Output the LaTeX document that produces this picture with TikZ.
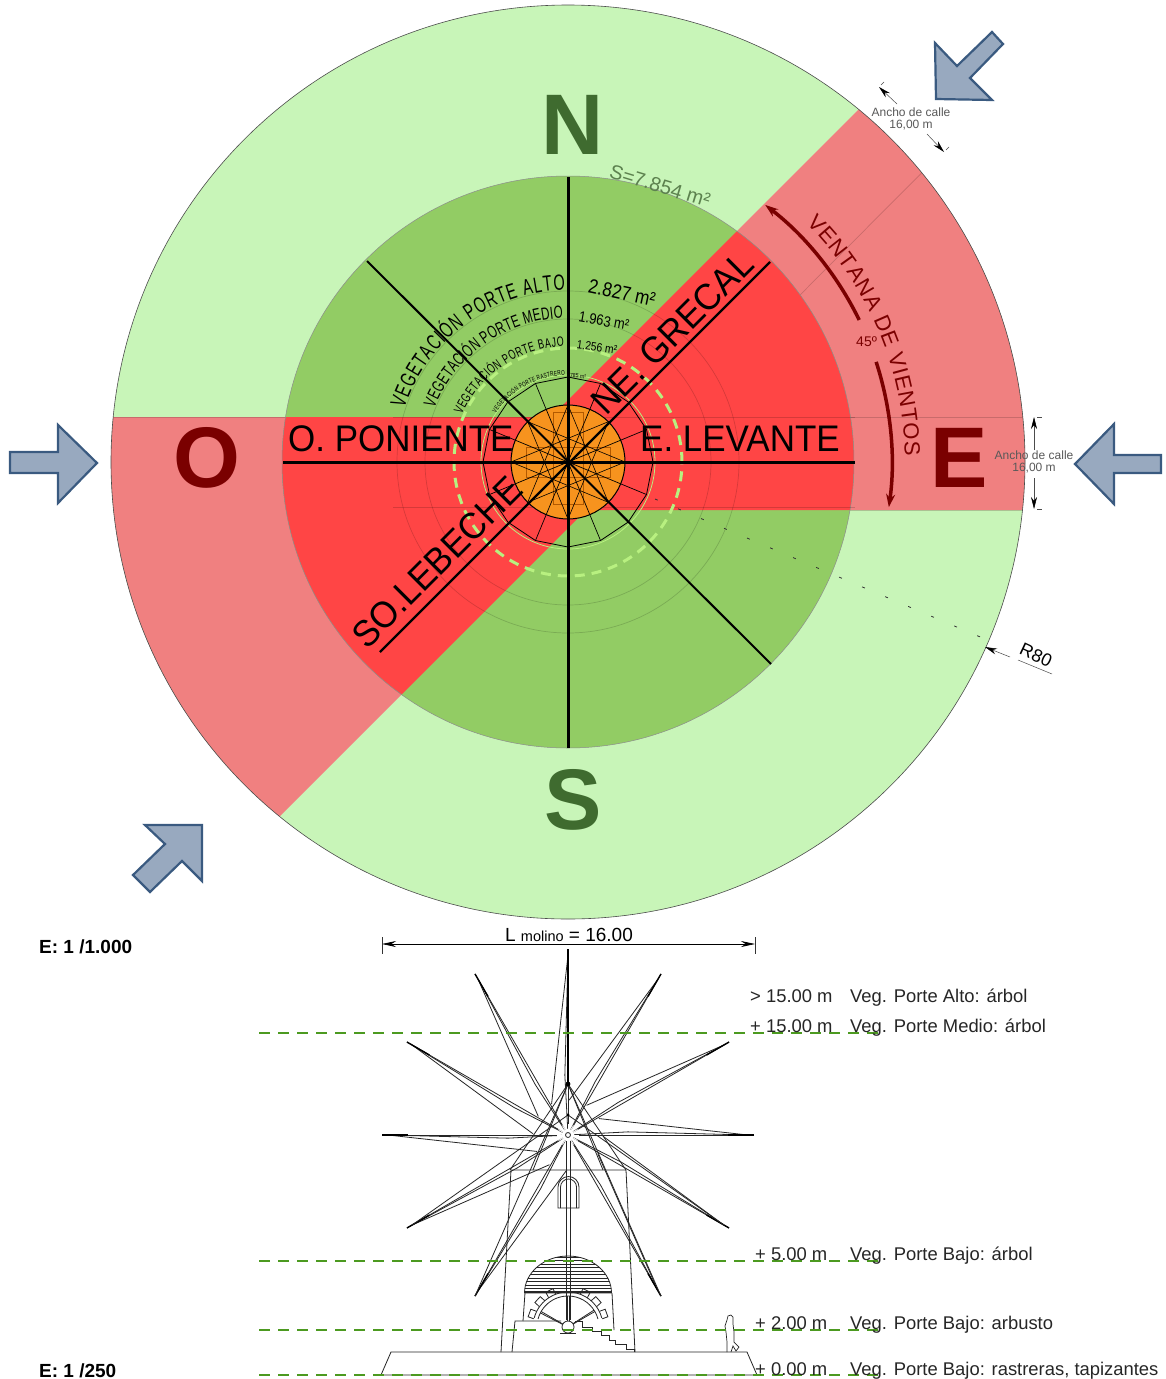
\documentclass[tikz,border=0pt]{standalone}
\usepackage{fontspec}
\setmainfont{Liberation Sans}
\newfontfamily\condf[FakeStretch=0.66]{Liberation Sans}
\newfontfamily\condg[FakeStretch=0.86]{Liberation Sans}
\newfontfamily\condh[FakeStretch=0.945]{Liberation Sans}
\usetikzlibrary{arrows.meta,decorations.text}
\definecolor{outgreen}{HTML}{C8F5B8}
\definecolor{outred}{HTML}{F08080}
\definecolor{midgreen}{HTML}{92CC64}
\definecolor{midred}{HTML}{FF4545}
\definecolor{orangec}{HTML}{F7931E}
\definecolor{darkg}{HTML}{3F6B2F}
\definecolor{darkr}{HTML}{7A0000}
\definecolor{arrowf}{HTML}{98A9BF}
\definecolor{arrowd}{HTML}{3A5A80}
\definecolor{levelg}{HTML}{4C9A20}
\definecolor{ringg}{HTML}{B8F080}
\newcommand\fsz[1]{\fontsize{#1}{#1}\selectfont}
\newcommand\fAlto{\condf\fontsize{22}{26}\selectfont}
\newcommand\fMedio{\condf\fontsize{17.5}{20}\selectfont}
\newcommand\fBajo{\condf\fontsize{13.5}{16}\selectfont}
\newcommand\fRas{\condf\fontsize{7}{8}\selectfont}
\newcommand\fVen{\fontsize{22}{26}\selectfont\color{darkr}}
\tikzset{
  windarrow/.style={fill=arrowf,draw=arrowd,line width=2.2,line join=miter},
  compass/.style={font=\bfseries\fsz{86},inner sep=0,anchor=center},
  bandlabel/.style={font=\condh\fsz{37},inner sep=0,text=black},
  arealabel/.style={inner sep=0,text=black},
  ancho/.style={font=\fsz{12},text=black!65,align=center,inner sep=0},
  dimline/.style={line width=0.5,draw=black!70},
  dimtip/.style={line width=0.5,draw=black!70,-{Stealth[length=12pt,width=6pt,black]}},
  level/.style={levelg,line width=2.6,dash pattern=on 11pt off 8pt},
  lvltext/.style={font=\fsz{18.4},inner sep=0,anchor=base west,text=black!85},
  scaletext/.style={font=\bfseries\fsz{19},inner sep=0,anchor=base west},
  spoke/.style={line width=#1,draw=black},
  mill/.style={line width=0.8,draw=black!85},
  faint/.style={line width=0.7,draw=black,draw opacity=0.16},
}
\begin{document}
\begin{tikzpicture}[x=1pt,y=1pt,line cap=butt]
\useasboundingbox (0,0) rectangle (1166,-1379);
\fill[white] (0,0) rectangle (1166,-1379);
% outer disc
\fill[outgreen] (568,-462) circle (457);
\begin{scope}
 \clip (568,-462) circle (457);
 \fill[outred] (-100,-417) -- (679,-417) -- (-100,-1196) -- cycle;
 \fill[outred] (1300,-510) -- (458,-510) -- (1300,332) -- cycle;
 \draw[faint] (100,-417) -- (1100,-417);
 \draw[faint] (1040,-54) -- (568,-528);
 \draw[faint] (568,-510) -- (1100,-510);
\end{scope}
\draw[line width=0.6,black!70] (568,-462) circle (457);
% middle disc
\fill[midgreen] (568,-462) circle (286);
\begin{scope}
 \clip (568,-462) circle (286);
 \fill[midred] (-100,-417) -- (679,-417) -- (-100,-1196) -- cycle;
 \fill[midred] (1300,-510) -- (458,-510) -- (1300,332) -- cycle;
\end{scope}
\draw[line width=0.5,black!45] (568,-462) circle (286);
\begin{scope}[shift={(568,-462)}]
 % faint rings
 \foreach \r in {143,171}{\draw[faint] (0,0) circle (\r);}
 \draw[faint] (-175,45) -- (287,45);
 \draw[faint] (-175,-45) -- (287,-45);
 % inner disc
 \fill[orangec] (0,0) circle (57);
 \draw[line width=0.5,orange!70!black] (-15,-42) rectangle (15,50);
 \draw[line width=0.5,orange!70!black] (-42,-15) rectangle (42,15);
 \draw[line width=1,black] (0,0) circle (57);
 % 16-gon
 \draw[line width=0.8,black] (0:85) \foreach \k in {1,...,15}{-- ({\k*22.5}:85)} -- cycle;
 \foreach \k in {1,3,...,15}{\draw[line width=0.7] (0,0) -- ({\k*22.5}:85);}
 \foreach \k in {0,...,7}{\draw[line width=0.6] ({\k*45}:57) -- ({\k*45+135}:57);}
 \draw[ringg,line width=0.8] (0,0) circle (87);
 \draw[ringg,line width=3,dash pattern=on 10pt off 7pt] (0,0) circle (114);
\end{scope}
% main axes
\draw[spoke=3] (568,-177) -- (568,-748);
\draw[spoke=3] (283,-462) -- (855,-462);
\draw[spoke=2.4] (770,-262) -- (380,-652);
\draw[spoke=2] (367,-261) -- (771,-664);
\fill (568,-462) circle (2.5);
% arrows
\draw[windarrow] (10,-452) -- (58,-452) -- (58,-425) -- (97,-463) -- (58,-503) -- (58,-473) -- (10,-473) -- cycle;
\draw[windarrow] (1161,-455) -- (1114,-455) -- (1114,-424) -- (1075,-464) -- (1114,-504) -- (1114,-473) -- (1161,-473) -- cycle;
\draw[windarrow] (935,-43) -- (936,-99) -- (992,-100) -- (970,-78) -- (1003,-44) -- (992,-32) -- (957,-66) -- cycle;
\draw[windarrow] (145,-825) -- (202,-825) -- (202,-881) -- (182,-861) -- (150,-892) -- (133,-875) -- (165,-844) -- cycle;
% compass letters
\node[compass,text=darkg] (n) at (573,-125) {N};
\node[compass,text=darkg] (s) at (573,-800) {S};
\node[compass,text=darkr] (o) at (207,-458) {O};
\node[compass,text=darkr] (e) at (959,-458) {E};
% band labels
\node[bandlabel,anchor=base west] (pon) at (288,-451) {O. PONIENTE};
\node[bandlabel,anchor=base west] (lev) at (640,-451) {E. LEVANTE};
\node[bandlabel,rotate=45] (gre) at (672,-333) {NE. GRECAL};
\node[bandlabel,rotate=45] (leb) at (437,-562) {SO.LEBECHE};
% area labels
\node[arealabel,font=\fsz{20},text=darkg!85!white,rotate=-17] (s7) at (660,-186) {S=7.854 m²};
\node[arealabel,font=\condg\fsz{20},rotate=-12] (a1) at (622,-293) {2.827 m²};
\node[arealabel,font=\condg\fsz{15},rotate=-10] (a2) at (604,-321) {1.963 m²};
\node[arealabel,font=\condg\fsz{12},rotate=-8] (a3) at (597,-347) {1.256 m²};
\node[arealabel,font=\condg\fsz{6},rotate=-6] (a4) at (578,-376) {785 m²};
% curved labels
\begin{scope}[shift={(568,-462)}]
 \path[decorate,decoration={text along path,text align={fit to path},text={|\fAlto|VEGETACIÓN PORTE ALTO}}] (162:172) arc (162:91:172);
 \path[decorate,decoration={text along path,text align={fit to path},text={|\fMedio|VEGETACIÓN PORTE MEDIO}}] (158:144) arc (158:92:144);
 \path[decorate,decoration={text along path,text align={fit to path},text={|\fBajo|VEGETACIÓN PORTE BAJO}}] (156:116) arc (156:92:116);
 \path[decorate,decoration={text along path,text align={fit to path},text={|\fRas|VEGETACIÓN PORTE RASTRERO}}] (146:87) arc (146:92:87);
 \path[decorate,decoration={text along path,text align={fit to path},text={|\fVen|VENTANA DE VIENTOS}}] (45:337) arc (45:1:337);
 \draw[darkr,line width=3.5,{Stealth[length=13pt,width=9pt]}-] (52.5:324) arc (52.5:26:324);
 \draw[darkr,line width=3.5,-{Stealth[length=13pt,width=9pt]}] (18:324) arc (18:-8:324);
 \node[font=\fsz{14},text=darkr,inner sep=0] (deg) at (22:322) {45º};
\end{scope}
% radius
\draw[black!80,line width=0.8,dash pattern=on 3pt off 22pt] (655,-499) -- (985,-639);
\coordinate (rlead) at (1010,-657);
\coordinate (rtip) at (985,-647);
\draw[dimtip] (rlead) -- (rtip);
\node[font=\fsz{18},rotate=-25,inner sep=0] (r80) at (1036,-655) {R80};
\draw[dimline] (1018,-660) -- (1052,-674);
% street widths
\node[ancho] (an1) at (911,-119) {Ancho de calle\\16,00 m};
\coordinate (a1t) at (879,-87);\coordinate (a1l) at (897,-104);
\coordinate (a2t) at (944,-152);\coordinate (a2l) at (927,-134);
\draw[dimtip] (a1l) -- (a1t);
\draw[dimtip] (a2l) -- (a2t);
\draw[dimline] (884,-82) -- (881,-85);
\draw[dimline] (949,-147) -- (946,-150);
\node[ancho] (an2) at (1034,-462) {Ancho de calle\\16,00 m};
\coordinate (b1t) at (1034,-417);\coordinate (b1l) at (1034,-450);
\coordinate (b2t) at (1034,-509);\coordinate (b2l) at (1034,-478);
\draw[dimtip] (b1l) -- (b1t);
\draw[dimtip] (b2l) -- (b2t);
\draw[dimline] (1037,-417) -- (1042,-417);
\draw[dimline] (1037,-509) -- (1042,-509);
% scales
\node[scaletext] (e1) at (39,-953) {E: 1 /1.000};
\node[scaletext] (e2) at (39,-1377) {E: 1 /250};
% elevation dimension
\coordinate (dl) at (382,-944);\coordinate (dr) at (755,-944);
\draw[line width=0.7,{Stealth[length=14pt,width=6pt]}-{Stealth[length=14pt,width=6pt]}] (dl) -- (dr);
\draw[line width=0.6,black!80] (382,-937) -- (382,-954);
\draw[line width=0.6,black!80] (755,-937) -- (755,-954);
\node[inner sep=0,anchor=base,font=\fsz{19}] (lm) at (569,-941) {L {\fsz{14.5}molino} = 16.00};
% windmill
\begin{scope}[shift={(568,-1135)}]
 \foreach \a in {0,30,...,240,300,330}{
   \draw[mill] (0,0) -- (\a:186);
   \draw[mill] (\a:180) -- ({\a+28}:35);
   \draw[mill] (\a:180) -- ({\a+3}:60) -- (0,0);
   \draw[line width=1.4,black] (\a:186) -- (\a:160);
 }
 \draw[mill] (-120:186) -- (0,51) -- (-60:186);
 \draw[mill] (-150:180) -- (0,20) -- (-30:180);
 \draw[mill] (-35,-35) -- (0,51) -- (35,-35);
 \draw[mill] (-58,-35) -- (0,51) -- (58,-35);
 \draw[line width=1.6] (0,51) -- (0,165);
 \fill (0,51) circle (2.4);
 \fill (0,20) circle (1.6);
 \fill[white] (0,0) circle (6);
 \foreach \k in {0,...,11}{\draw[white,line width=0.9] (0,0) -- ({\k*30}:11);}
 \draw[mill] (0,0) circle (2.5);
\end{scope}
\draw[mill] (566.5,-1141) -- (566.5,-1320);
\draw[mill] (570,-1141) -- (570,-1320);
% tower
\draw[mill] (501,-1352) -- (511,-1170) -- (626,-1170) -- (635,-1352);
\draw[mill] (391,-1352) -- (747,-1352) -- (757,-1375) -- (381,-1375) -- cycle;
% window
\draw[mill] (558,-1208) -- (558,-1187) arc (180:0:10.5) -- (579,-1208) -- cycle;
\draw[mill] (560.5,-1208) -- (560.5,-1187) arc (180:0:8) -- (576.5,-1208);
% dome
\begin{scope}
 \clip (524.5,-1293) arc (180:0:43.5 and 37) -- cycle;
 \foreach \y in {1257,1260.5,...,1290}{\draw[mill] (520,-\y) -- (616,-\y);}
 \draw[mill] (520,-1291) -- (616,-1291);
 \draw[mill] (520,-1292.5) -- (616,-1292.5);
\end{scope}
\draw[mill] (524.5,-1293) arc (180:0:43.5 and 37) -- cycle;
\draw[mill] (525,-1293) -- (523,-1321);
\draw[mill] (612,-1293) -- (614,-1330);
% wheel
\begin{scope}[shift={(568,-1327)}]
 \draw[mill] (165:31) arc (165:15:31);
 \draw[mill] (165:35) arc (165:15:35);
 \foreach \a in {160,138,117,63,42,20}{
   \draw[mill,rotate=\a] (35,-4) -- (41,-4) -- (41,4) -- (35,4);
 }
 \foreach \a in {30,150}{
   \draw[mill] (\a:6) -- (\a:31);
   \draw[mill] ({\a+4}:6) -- ({\a+3}:31);
 }
 \draw[mill] (-1,6) -- (-1,31);
 \draw[mill] (1,6) -- (1,31);
 \fill[white] (0,0) circle (6);
 \draw[mill] (0,0) circle (6);
\end{scope}
\draw[mill] (560,-1333) -- (576,-1333);
% stairs
\draw[mill] (512,-1352) -- (515,-1321) -- (561,-1321);
\draw[mill] (575,-1321) -- (582,-1321) -- (582,-1327) -- (592,-1327) -- (592,-1331) -- (601,-1331) -- (601,-1335) -- (609,-1335) -- (609,-1340) -- (615,-1340) -- (615,-1344) -- (626,-1344) -- (626,-1349) -- (634,-1349) -- (634,-1352);
% person
\draw[line width=0.7,black!85] (727,-1352) -- (727,-1342) -- (726,-1332) -- (725,-1326) -- (727,-1320) -- (728,-1316) -- (731,-1315) -- (733,-1317) -- (733,-1324) -- (734,-1332) -- (734,-1342) -- (739,-1347) -- (736,-1351) -- (733,-1346) -- (731,-1352);
% levels
\coordinate (l0a) at (259,-1033);\coordinate (l0b) at (880,-1033);
\coordinate (l1a) at (259,-1261);\coordinate (l1b) at (880,-1261);
\coordinate (l2a) at (259,-1330);\coordinate (l2b) at (880,-1330);
\coordinate (l3a) at (259,-1375);\coordinate (l3b) at (880,-1375);
\draw[level] (l0a) -- (l0b);
\draw[level] (l1a) -- (l1b);
\draw[level] (l2a) -- (l2b);
\draw[level] (l3a) -- (l3b);
\node[lvltext] (t0) at (750,-1002) {> 15.00 m};
\node[lvltext] (v0) at (850,-1002) {Veg. Porte Alto: árbol};
\node[lvltext] (t1) at (750,-1032) {+ 15.00 m};
\node[lvltext] (v1) at (850,-1032) {Veg. Porte Medio: árbol};
\node[lvltext] (t2) at (755,-1260) {+ 5.00 m};
\node[lvltext] (v2) at (850,-1260) {Veg. Porte Bajo: árbol};
\node[lvltext] (t3) at (755,-1329) {+ 2.00 m};
\node[lvltext] (v3) at (850,-1329) {Veg. Porte Bajo: arbusto};
\node[lvltext] (t4) at (755,-1375) {+ 0.00 m};
\node[lvltext] (v4) at (850,-1375) {Veg. Porte Bajo: rastreras, tapizantes};
\end{tikzpicture}
\end{document}
